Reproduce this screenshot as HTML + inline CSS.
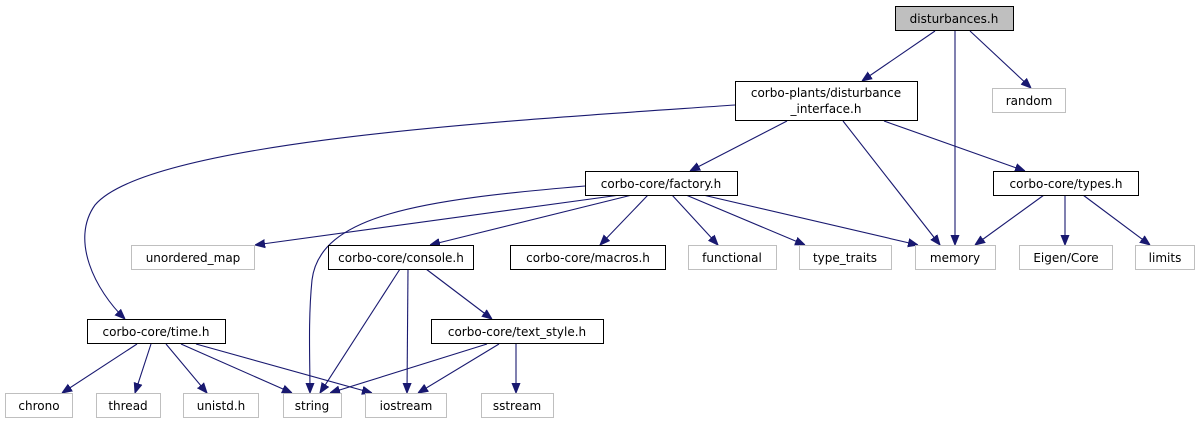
<!DOCTYPE html>
<html><head><meta charset="utf-8"><style>
html,body{margin:0;padding:0;background:#fff;}
svg{display:block;}
text{font-family:"DejaVu Sans","Liberation Sans",sans-serif;font-size:12px;fill:#000;}
</style></head><body>
<svg width="1200" height="425" viewBox="0 0 1200 425" xmlns="http://www.w3.org/2000/svg">
<defs>
<marker id="a" viewBox="0 0 10 10" refX="10" refY="5" markerWidth="10" markerHeight="10" markerUnits="userSpaceOnUse" orient="auto">
<path d="M0,1 L10,5 L0,9 z" fill="#191970" stroke="#191970"/>
</marker>
</defs>
<g fill="none" stroke="#191970" stroke-width="1.1" marker-end="url(#a)">
<path d="M935,31 L862,81"/>
<path d="M955,31 L955,245"/>
<path d="M970,31 L1031,88"/>
<path d="M735,105 C520,120 150,140 95,205 C70,240 95,290 125,319"/>
<path d="M787,121 L690,171"/>
<path d="M843,121 L940,245"/>
<path d="M884,121 L1025,171"/>
<path d="M585,186 C420,200 320,215 312,280 C308,320 310,360 310,393"/>
<path d="M620,195 L255,245"/>
<path d="M632,195 L430,245"/>
<path d="M648,195 L600,245"/>
<path d="M672,195 L718,245"/>
<path d="M686,195 L805,245"/>
<path d="M703,195 L918,245"/>
<path d="M1044,195 L975,245"/>
<path d="M1065,195 L1065,245"/>
<path d="M1083,195 L1150,245"/>
<path d="M400,269 L320,393"/>
<path d="M408,269 L407,393"/>
<path d="M426,269 L492,319"/>
<path d="M137,344 L62,393"/>
<path d="M151,344 L135,393"/>
<path d="M166,344 L207,393"/>
<path d="M181,344 L292,393"/>
<path d="M196,344 L372,393"/>
<path d="M487,344 L330,393"/>
<path d="M499,344 L418,393"/>
<path d="M516,344 L516,393"/>
</g>
<g stroke-width="1">
<rect x="895.5" y="6.5" width="118" height="24" fill="#bfbfbf" stroke="#000"/>
<rect x="735.5" y="81.5" width="182" height="39" fill="#fff" stroke="#000"/>
<rect x="992.5" y="88.5" width="73" height="24" fill="#fff" stroke="#bfbfbf"/>
<rect x="585.5" y="171.5" width="152" height="24" fill="#fff" stroke="#000"/>
<rect x="993.5" y="171.5" width="145" height="24" fill="#fff" stroke="#000"/>
<rect x="131.5" y="245.5" width="123" height="24" fill="#fff" stroke="#bfbfbf"/>
<rect x="328.5" y="245.5" width="145" height="24" fill="#fff" stroke="#000"/>
<rect x="510.5" y="245.5" width="155" height="24" fill="#fff" stroke="#000"/>
<rect x="688.5" y="245.5" width="88" height="24" fill="#fff" stroke="#bfbfbf"/>
<rect x="799.5" y="245.5" width="92" height="24" fill="#fff" stroke="#bfbfbf"/>
<rect x="915.5" y="245.5" width="80" height="24" fill="#fff" stroke="#bfbfbf"/>
<rect x="1019.5" y="245.5" width="93" height="24" fill="#fff" stroke="#bfbfbf"/>
<rect x="1135.5" y="245.5" width="59" height="24" fill="#fff" stroke="#bfbfbf"/>
<rect x="87.5" y="319.5" width="138" height="24" fill="#fff" stroke="#000"/>
<rect x="431.5" y="319.5" width="172" height="24" fill="#fff" stroke="#000"/>
<rect x="5.5" y="393.5" width="67" height="24" fill="#fff" stroke="#bfbfbf"/>
<rect x="96.5" y="393.5" width="64" height="24" fill="#fff" stroke="#bfbfbf"/>
<rect x="183.5" y="393.5" width="75" height="24" fill="#fff" stroke="#bfbfbf"/>
<rect x="283.5" y="393.5" width="58" height="24" fill="#fff" stroke="#bfbfbf"/>
<rect x="365.5" y="393.5" width="81" height="24" fill="#fff" stroke="#bfbfbf"/>
<rect x="481.5" y="393.5" width="72" height="24" fill="#fff" stroke="#bfbfbf"/>
</g>
<g text-anchor="middle">
<text x="954" y="23">disturbances.h</text>
<text x="826" y="97">corbo-plants/disturbance</text>
<text x="826" y="113">_interface.h</text>
<text x="1029" y="105">random</text>
<text x="661" y="188">corbo-core/factory.h</text>
<text x="1066" y="188">corbo-core/types.h</text>
<text x="193" y="262">unordered_map</text>
<text x="401" y="262">corbo-core/console.h</text>
<text x="588" y="262">corbo-core/macros.h</text>
<text x="732" y="262">functional</text>
<text x="845" y="262">type_traits</text>
<text x="955" y="262">memory</text>
<text x="1066" y="262">Eigen/Core</text>
<text x="1165" y="262">limits</text>
<text x="156" y="336">corbo-core/time.h</text>
<text x="517" y="336">corbo-core/text_style.h</text>
<text x="39" y="410">chrono</text>
<text x="128" y="410">thread</text>
<text x="221" y="410">unistd.h</text>
<text x="312" y="410">string</text>
<text x="406" y="410">iostream</text>
<text x="517" y="410">sstream</text>
</g>
</svg>
</body></html>
